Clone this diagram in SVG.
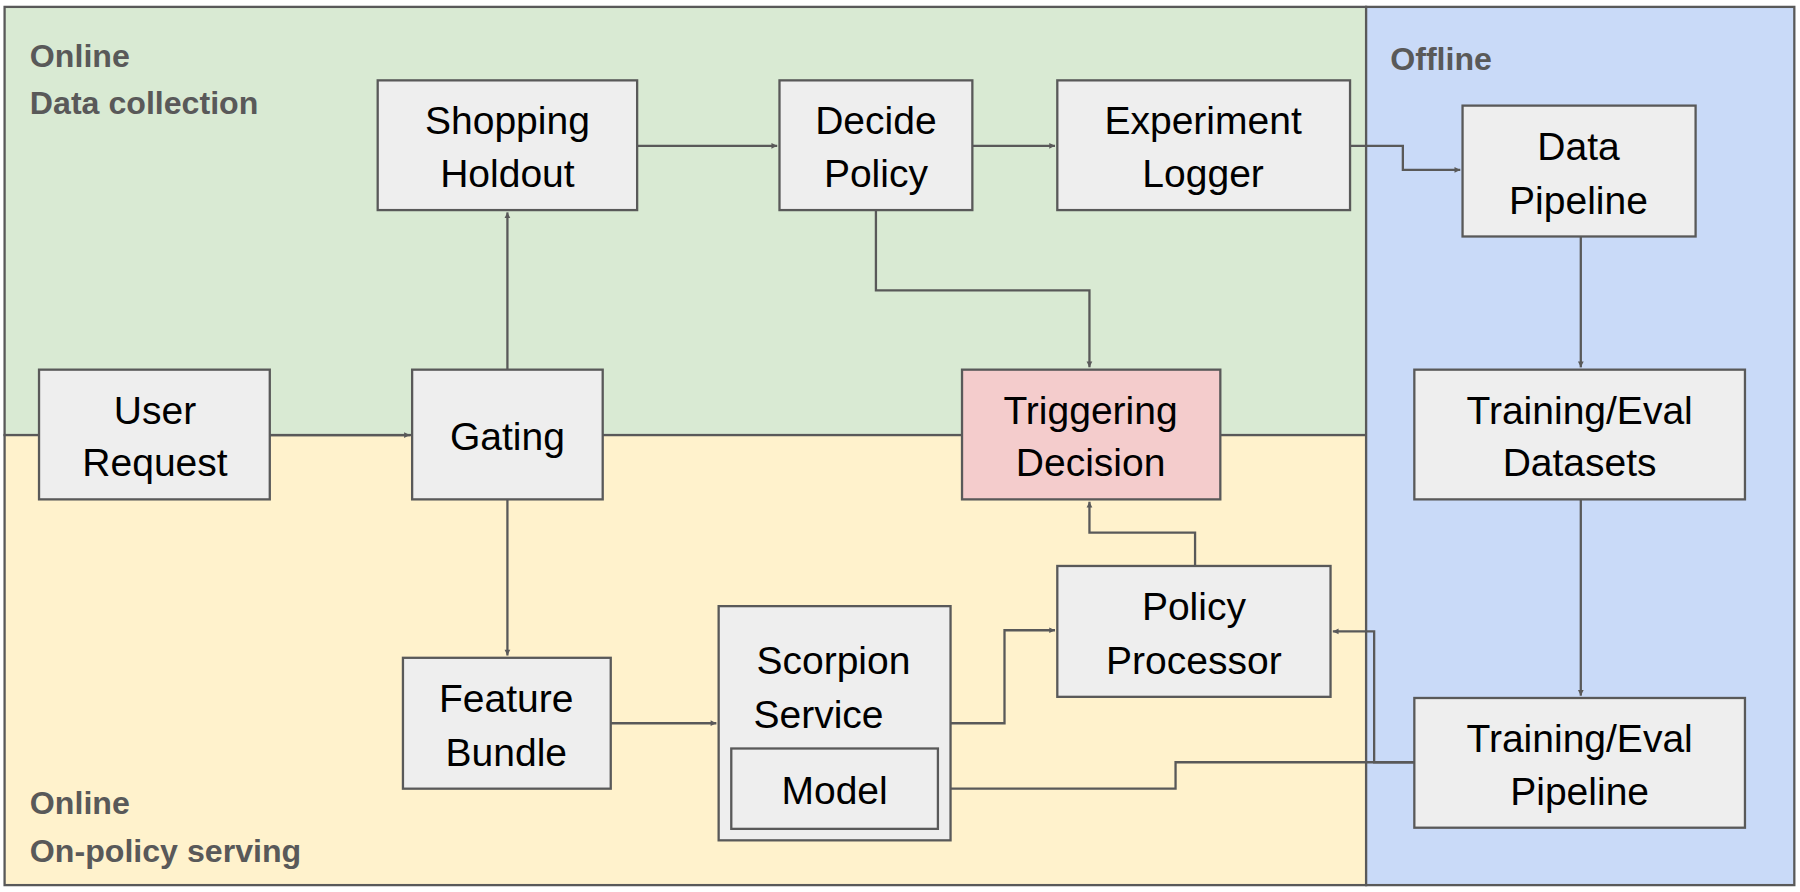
<svg xmlns="http://www.w3.org/2000/svg" width="1800" height="892" viewBox="0 0 1800 892">
<defs>
<marker id="ar" viewBox="0 0 10 10" refX="10" refY="5" markerWidth="5" markerHeight="5" orient="auto-start-reverse" markerUnits="userSpaceOnUse" style="overflow:visible"><path d="M0,0 L10,5 L0,10 z" fill="#595959"/></marker>
<style>
.reg{stroke:#595959;stroke-width:2}
.box{fill:#eeeeee;stroke:#595959;stroke-width:2}
.t{font-family:"Liberation Sans",Arial,sans-serif;font-size:34px;fill:#000;text-anchor:middle}
.lab{font-family:"Liberation Sans",Arial,sans-serif;font-size:28px;font-weight:bold;fill:#595959}
.c{fill:none;stroke:#595959;stroke-width:2}
.c.a{marker-end:url(#ar)}
</style>
</defs>
<rect width="1800" height="892" fill="#fff"/>
<g transform="scale(1.148)">
<g id="regions">
<rect class="reg" x="4" y="6" width="1186" height="373" fill="#d9ead3"/>
<rect class="reg" x="4" y="379" width="1186" height="392" fill="#fff2cc"/>
<rect class="reg" x="1190" y="6" width="373" height="765" fill="#c9daf8"/>
<text class="lab" x="26" y="58">Online</text>
<text class="lab" x="26" y="99">Data collection</text>
<text class="lab" x="1211" y="61">Offline</text>
<text class="lab" x="26" y="709">Online</text>
<text class="lab" x="26" y="751">On-policy serving</text>
</g>
<g id="connectors">
<path class="c a" d="M235,379 H357"/>
<path class="c a" d="M442,322 V185"/>
<path class="c a" d="M442,435 V571"/>
<path class="c a" d="M555,127 H677"/>
<path class="c a" d="M847,127 H919"/>
<path class="c a" d="M1176,127 H1222 V148 H1272"/>
<path class="c a" d="M763,183 V253 H949 V320"/>
<path class="c a" d="M1377,206 V320"/>
<path class="c a" d="M1377,435 V606"/>
<path class="c a" d="M532,630 H624"/>
<path class="c a" d="M828,630 H875 V549 H919"/>
<path class="c a" d="M1041,493 V464 H949 V437"/>
<path class="c a" d="M1232,664 H1197 V550 H1161"/>
<path class="c a" d="M1232,664 H1024 V687 H819"/>
</g>
<g id="shopping"><rect class="box" x="329" y="70" width="226" height="113"/><text class="t" x="442" y="117">Shopping</text><text class="t" x="442" y="163">Holdout</text></g>
<g id="decide"><rect class="box" x="679" y="70" width="168" height="113"/><text class="t" x="763" y="117">Decide</text><text class="t" x="763" y="163">Policy</text></g>
<g id="logger"><rect class="box" x="921" y="70" width="255" height="113"/><text class="t" x="1048" y="117">Experiment</text><text class="t" x="1048" y="163">Logger</text></g>
<g id="datapipeline"><rect class="box" x="1274" y="92" width="203" height="114"/><text class="t" x="1375" y="139">Data</text><text class="t" x="1375" y="186">Pipeline</text></g>
<g id="user"><rect class="box" x="34" y="322" width="201" height="113"/><text class="t" x="135" y="369">User</text><text class="t" x="135" y="415">Request</text></g>
<g id="gating"><rect class="box" x="359" y="322" width="166" height="113"/><text class="t" x="442" y="392">Gating</text></g>
<g id="triggering"><rect class="box" x="838" y="322" width="225" height="113" fill="#f4cccc" style="fill:#f4cccc"/><text class="t" x="950" y="369">Triggering</text><text class="t" x="950" y="415">Decision</text></g>
<g id="datasets"><rect class="box" x="1232" y="322" width="288" height="113"/><text class="t" x="1376" y="369">Training/Eval</text><text class="t" x="1376" y="415">Datasets</text></g>
<g id="feature"><rect class="box" x="351" y="573" width="181" height="114"/><text class="t" x="441" y="620">Feature</text><text class="t" x="441" y="667">Bundle</text></g>
<g id="scorpion"><rect class="box" x="626" y="528" width="202" height="204"/><text class="t" x="726" y="587">Scorpion</text><text class="t" x="713" y="634">Service</text>
<g id="model"><rect class="box" x="637" y="652" width="180" height="70"/><text class="t" x="727" y="700">Model</text></g></g>
<g id="processor"><rect class="box" x="921" y="493" width="238" height="114"/><text class="t" x="1040" y="540">Policy</text><text class="t" x="1040" y="587">Processor</text></g>
<g id="pipeline"><rect class="box" x="1232" y="608" width="288" height="113"/><text class="t" x="1376" y="655">Training/Eval</text><text class="t" x="1376" y="701">Pipeline</text></g>
</g>
</svg>
